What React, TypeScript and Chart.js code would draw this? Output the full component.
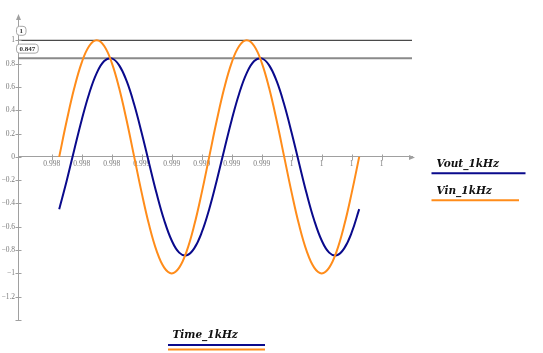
import React, { useEffect, useRef } from "react";
import { Chart, registerables } from "chart.js";
Chart.register(...registerables);

// Time in seconds (two periods of the 1 kHz signal)
const timeS = [
  0.998, 0.99805, 0.9981, 0.99815, 0.9982, 0.99825, 0.9983, 0.99835, 0.9984, 0.99845,
  0.9985, 0.99855, 0.9986, 0.99865, 0.9987, 0.99875, 0.9988, 0.99885, 0.9989, 0.99895,
  0.999, 0.99905, 0.9991, 0.99915, 0.9992, 0.99925, 0.9993, 0.99935, 0.9994, 0.99945,
  0.9995, 0.99955, 0.9996, 0.99965, 0.9997, 0.99975, 0.9998, 0.99985, 0.9999, 0.99995,
  1.0,
];
const vin = [
  0, 0.309, 0.588, 0.809, 0.951, 1, 0.951, 0.809, 0.588, 0.309,
  0, -0.309, -0.588, -0.809, -0.951, -1, -0.951, -0.809, -0.588, -0.309,
  0, 0.309, 0.588, 0.809, 0.951, 1, 0.951, 0.809, 0.588, 0.309,
  0, -0.309, -0.588, -0.809, -0.951, -1, -0.951, -0.809, -0.588, -0.309,
  0,
];
const vout = [
  -0.449, -0.205, 0.059, 0.317, 0.544, 0.718, 0.822, 0.845, 0.785, 0.649,
  0.449, 0.205, -0.059, -0.317, -0.544, -0.718, -0.822, -0.845, -0.785, -0.649,
  -0.449, -0.205, 0.059, 0.317, 0.544, 0.718, 0.822, 0.845, 0.785, 0.649,
  0.449, 0.205, -0.059, -0.317, -0.544, -0.718, -0.822, -0.845, -0.785, -0.649,
  -0.449,
];
const markerValues = [1, 0.847];
const markerLabels = ["1", "0.847"];
const xTickValues = [
  0.99795, 0.99815, 0.99835, 0.99855, 0.99875, 0.99895, 0.99915, 0.99935, 0.99955, 0.99975,
  0.99995, 1.00015,
];
const xTickLabels = ["0.998", "0.998", "0.998", "0.999", "0.999", "0.999", "0.999", "0.999", "1", "1", "1", "1"];
const yTickValues = [-1.2, -1, -0.8, -0.6, -0.4, -0.2, 0, 0.2, 0.4, 0.6, 0.8, 1];
const yTickLabels = ["\u22121.2", "\u22121", "\u22120.8", "\u22120.6", "\u22120.4", "\u22120.2", "0", "0.2", "0.4", "0.6", "0.8", "1"];
const seriesNames = ["Vout_1kHz", "Vin_1kHz"];
const xAxisName = "Time_1kHz";

const X_MIN = 0.9977253;
const X_MAX = 1.000352;
const Y_MIN = -1.4;
const Y_MAX = 1.2;

const BLUE = "#0a0a8c";
const ORANGE = "#ff8c1a";
const AXIS = "#a0a0a0";
const SERIF = "'Liberation Serif', 'Times New Roman', serif";
const LEGEND_FONT = "italic bold 10.5px 'DejaVu Serif', serif";

const decor = {
  id: "decor",
  afterDraw(chart: any) {
    const ctx = chart.ctx as CanvasRenderingContext2D;
    const xs = chart.scales.x;
    const ys = chart.scales.y;
    const ca = chart.chartArea;
    const y0 = ys.getPixelForValue(0);
    ctx.save();
    ctx.strokeStyle = AXIS;
    ctx.fillStyle = AXIS;
    ctx.lineWidth = 1;
    const ln = (a: number, b: number, c: number, d: number) => {
      ctx.beginPath();
      ctx.moveTo(a, b);
      ctx.lineTo(c, d);
      ctx.stroke();
    };
    const lx = Math.round(ca.left) + 0.5;
    [...yTickValues, Y_MIN].forEach((v) => {
      const py = Math.round(ys.getPixelForValue(v)) + 0.5;
      ln(lx - 3, py, lx + 3, py);
    });
    const py0 = Math.round(y0) + 0.5;
    xTickValues.forEach((v) => {
      const px = Math.round(xs.getPixelForValue(v)) + 0.5;
      ln(px, py0 - 3, px, py0 + 3);
    });
    // arrows
    ctx.beginPath();
    ctx.moveTo(ca.right + 3, py0);
    ctx.lineTo(ca.right - 3, py0 - 2.5);
    ctx.lineTo(ca.right - 3, py0 + 2.5);
    ctx.closePath();
    ctx.fill();
    ctx.beginPath();
    ctx.moveTo(lx, ca.top - 3);
    ctx.lineTo(lx - 2.5, ca.top + 3);
    ctx.lineTo(lx + 2.5, ca.top + 3);
    ctx.closePath();
    ctx.fill();

    // marker boxes
    ctx.font = `bold 7px ${SERIF}`;
    ctx.textBaseline = "middle";
    ctx.textAlign = "left";
    markerValues.forEach((v, i) => {
      const py = ys.getPixelForValue(v);
      const cy = py - 10;
      const tw = ctx.measureText(markerLabels[i]).width;
      const bx = 16;
      const bw = tw + 6;
      const bh = 9;
      ctx.beginPath();
      (ctx as any).roundRect(bx + 0.5, cy - bh / 2 + 0.5, bw, bh, 3);
      ctx.fillStyle = "#ffffff";
      ctx.fill();
      ctx.strokeStyle = "#a8a8a8";
      ctx.stroke();
      ctx.fillStyle = "#333333";
      ctx.fillText(markerLabels[i], bx + 3.5, cy + 1);
    });

    // legends
    ctx.font = LEGEND_FONT;
    ctx.textBaseline = "alphabetic";
    ctx.fillStyle = "#111111";
    ctx.fillText(seriesNames[0], 436.5, 166.5);
    ctx.fillText(seriesNames[1], 436.5, 193.5);
    ctx.fillText(xAxisName, 172.5, 337.5);
    ctx.lineWidth = 2;
    ctx.strokeStyle = BLUE;
    ln(431.5, 173.3, 525.5, 173.3);
    ln(168, 345, 265, 345);
    ctx.strokeStyle = ORANGE;
    ln(431.5, 200.3, 519, 200.3);
    ln(168, 349.5, 265, 349.5);
    ctx.restore();
  },
};

export default function App() {
  const ref = useRef<HTMLCanvasElement | null>(null);
  useEffect(() => {
    if (!ref.current) return;
    const lineDs = markerValues.map((v, i) => ({
      label: markerLabels[i],
      data: [
        { x: X_MIN, y: v },
        { x: X_MAX, y: v },
      ],
      borderColor: i === 0 ? "#4a4a4a" : "#8a8a8a",
      borderWidth: i === 0 ? 1.3 : 2,
      pointRadius: 0,
      tension: 0,
    }));
    const chart = new Chart(ref.current, {
      type: "line",
      data: {
        datasets: [
          {
            label: seriesNames[1],
            data: timeS.map((t, i) => ({ x: t, y: vin[i] })),
            borderColor: ORANGE,
            borderWidth: 2,
            pointRadius: 0,
            tension: 0.4,
          },
          {
            label: seriesNames[0],
            data: timeS.map((t, i) => ({ x: t, y: vout[i] })),
            borderColor: BLUE,
            borderWidth: 2,
            pointRadius: 0,
            tension: 0.4,
          },
          ...lineDs,
        ],
      },
      options: {
        responsive: false,
        devicePixelRatio: 1,
        animation: false,
        layout: { padding: { left: 0, top: 17, right: 131, bottom: 33 } },
        plugins: { legend: { display: false }, tooltip: { enabled: false } },
        scales: {
          x: {
            type: "linear",
            position: { y: 0 } as any,
            min: X_MIN,
            max: X_MAX,
            afterBuildTicks: (s: any) => {
              s.ticks = xTickValues.map((v) => ({ value: v }));
            },
            ticks: {
              autoSkip: false,
              maxRotation: 0,
              padding: 3,
              color: "#7a7a7a",
              font: { family: SERIF, size: 7.5 },
              callback: (_v: any, i: number) => xTickLabels[i],
            },
            grid: { display: false, drawTicks: false },
            border: { display: true, color: AXIS, width: 1 },
          },
          y: {
            type: "linear",
            position: "left",
            min: Y_MIN,
            max: Y_MAX,
            afterFit: (s: any) => {
              s.width = 18;
            },
            afterBuildTicks: (s: any) => {
              s.ticks = yTickValues.map((v) => ({ value: v }));
            },
            ticks: {
              autoSkip: false,
              padding: 3,
              color: "#7a7a7a",
              font: { family: SERIF, size: 7.5 },
              callback: (_v: any, i: number) => yTickLabels[i],
            },
            grid: { display: false, drawTicks: false },
            border: { display: true, color: AXIS, width: 1 },
          },
        },
      },
      plugins: [decor],
    });
    return () => chart.destroy();
  }, []);
  return (
    <div style={{ position: "fixed", left: 0, top: 0, width: 543, height: 353, background: "#fff" }}>
      <canvas ref={ref} width={543} height={353} style={{ display: "block" }} />
    </div>
  );
}
